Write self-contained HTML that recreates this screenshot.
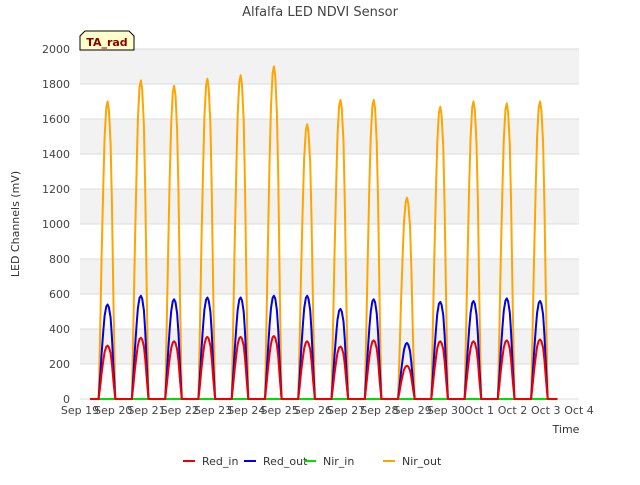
<!DOCTYPE html>
<html><head><meta charset="utf-8"><style>
body{margin:0;background:#fff;font-family:"Liberation Sans","DejaVu Sans",sans-serif}
svg text{font-family:"DejaVu Sans","Liberation Sans",sans-serif}
</style></head><body>
<svg id="chart" width="640" height="480" viewBox="0 0 640 480">
<text x="320" y="16" text-anchor="middle" font-size="13" fill="#444">Alfalfa LED NDVI Sensor</text>
<g id="grid"></g>
<g id="series"></g>
<g id="axes"></g>
<text transform="translate(19,224) rotate(-90)" text-anchor="middle" font-size="11" fill="#333">LED Channels (mV)</text>
<text x="566" y="433" text-anchor="middle" font-size="11" fill="#333">Time</text>
<g>
<path d="M80,50 L80,36 L85,31 L129,31 L134,36 L134,50 Z" fill="#ffffcc" stroke="#000" stroke-width="1"/>
<text x="107" y="46" text-anchor="middle" font-size="11" font-weight="bold" fill="#8b0000">TA_rad</text>
</g>
<g id="legend"></g>
</svg>
<script>
const yTicks=[0,200,400,600,800,1000,1200,1400,1600,1800,2000];
const xTickLabels=["Sep 19","Sep 20","Sep 21","Sep 22","Sep 23","Sep 24","Sep 25","Sep 26","Sep 27","Sep 28","Sep 29","Sep 30","Oct 1","Oct 2","Oct 3","Oct 4"];
const nirOutPeaks=[1700,1820,1790,1830,1850,1900,1570,1710,1710,1150,1670,1700,1690,1700];
const redOutPeaks=[540,590,570,580,580,590,590,515,570,320,555,560,575,560];
const redInPeaks=[305,350,330,355,355,360,330,300,335,190,330,330,335,340];
const nirInPeaks=[0,0,0,0,0,0,0,0,0,0,0,0,0,0];
const dayOffsets=[0.56,0.6,0.65,0.7,0.74,0.79,0.83,0.87,0.92,0.96,1.01,1.06];
const dayShape=[0,0.2,0.48,0.72,0.88,0.98,1,0.97,0.86,0.66,0.3,0];
const NS="http://www.w3.org/2000/svg";
const X0=80,X1=579,Y0=399,Y1=49;
const xs=d=>X0+(X1-X0)*d/15;
const ys=v=>Y0-(Y0-Y1)*v/2000;
function mk(t,a,p){const e=document.createElementNS(NS,t);for(const k in a)e.setAttribute(k,a[k]);p.appendChild(e);return e;}
const grid=document.getElementById('grid'),axes=document.getElementById('axes'),ser=document.getElementById('series'),leg=document.getElementById('legend');
for(let i=0;i<yTicks.length-1;i++){
  if(i%2==1){const r=mk('rect',{x:X0,y:ys(yTicks[i+1]),width:X1-X0,height:ys(yTicks[i])-ys(yTicks[i+1]),fill:'#f2f2f2'},grid);
  
  }
}
yTicks.forEach(v=>{
  const l=mk('line',{x1:X0,x2:X1,y1:ys(v),y2:ys(v),stroke:'#dcdcdc','stroke-width':1},grid);
  
  
  const t=mk('text',{x:X0-10,y:ys(v)+4,'text-anchor':'end','font-size':11,fill:'#444'},axes);t.textContent=v;
  
  
});
xTickLabels.forEach((s,i)=>{
  const t=mk('text',{x:xs(i),y:414,'text-anchor':'middle','font-size':11,fill:'#444'},axes);t.textContent=s;
  
  
});
function series(peaks,color,name){
  let d=`M${xs(0.3)},${ys(0)}`;
  peaks.forEach((p,i)=>{dayOffsets.forEach((o,j)=>{d+=` L${xs(i+o).toFixed(1)},${ys(p*dayShape[j]).toFixed(1)}`;});});
  d+=` L${xs(14.35)},${ys(0)}`;
  const e=mk('path',{d:d,fill:'none',stroke:color,'stroke-width':2,'stroke-linejoin':'round'},ser);
  
  
}
series(nirInPeaks,'#00dd00','nir-in-line');
series(nirOutPeaks,'#ffa500','nir-out-line');
series(redOutPeaks,'#0000ee','red-out-line');
series(redInPeaks,'#ee0000','red-in-line');
const items=[["Red_in","#ee0000",183],["Red_out","#0000ee",244],["Nir_in","#00dd00",304],["Nir_out","#ffa500",383]];
items.forEach(it=>{
  const l=mk('line',{x1:it[2],x2:it[2]+12,y1:461,y2:461,stroke:it[1],'stroke-width':2},leg);
  
  
  const t=mk('text',{x:it[2]+19,y:465,'font-size':11,fill:'#333'},leg);t.textContent=it[0];
  
  
});
</script>
</body></html>
